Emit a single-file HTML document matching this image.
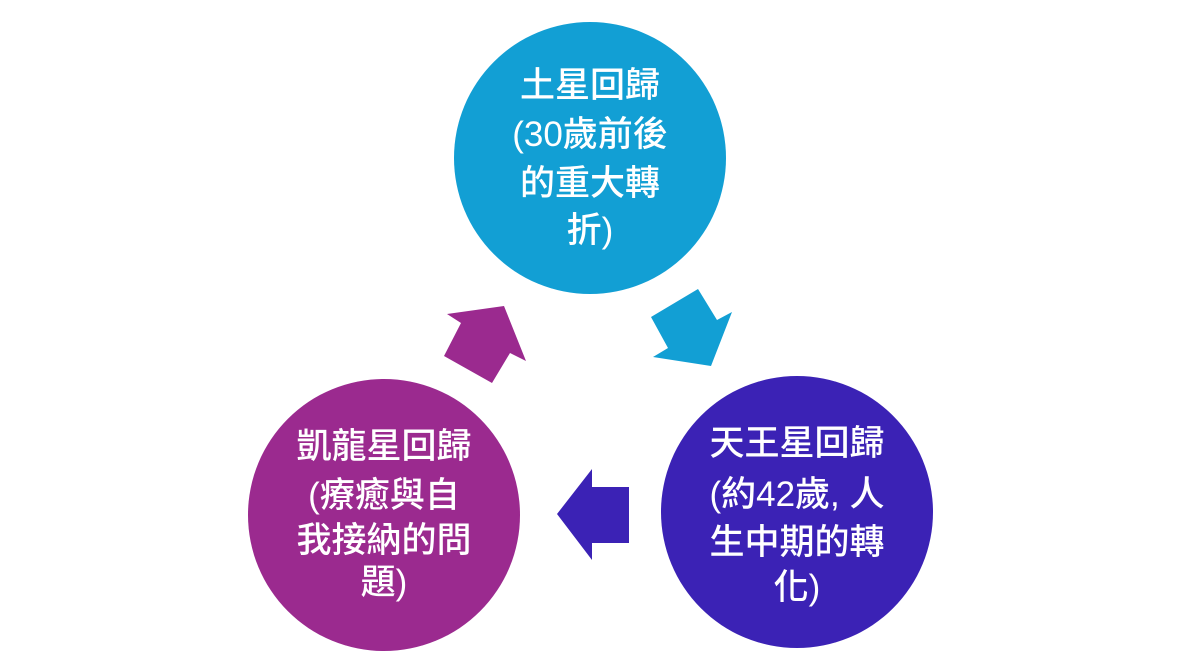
<!DOCTYPE html>
<html><head><meta charset="utf-8"><style>
html,body{margin:0;padding:0;background:#fff;width:1180px;height:657px;overflow:hidden}
text{font-family:"Liberation Sans","Noto Sans CJK TC",sans-serif;font-size:35px;fill:#fff;text-anchor:middle;font-weight:500}
</style></head><body>
<svg width="1180" height="657" viewBox="0 0 1180 657" xmlns="http://www.w3.org/2000/svg">
<circle cx="590" cy="158" r="136" fill="#129fd4"/>
<circle cx="797" cy="512" r="136" fill="#3b22b5"/>
<circle cx="384" cy="515" r="136" fill="#9b2a8f"/>
<polygon points="651,317 698,289 717,320 732,312 711,366 653,357 668,348" fill="#129fd4"/>
<polygon points="447,314 504,306 526,361 510,353 492,383 444,356 461,323" fill="#9b2a8f"/>
<polygon points="557,514 592,469 592,487 629,487 629,543 592,543 592,560" fill="#3b22b5"/>
<text x="590" y="97">土星回歸</text>
<text x="590" y="146">(30歲前後</text>
<text x="590" y="195">的重大轉</text>
<text x="590" y="242">折)</text>
<text x="797" y="455">天王星回歸</text>
<text x="797" y="506">(約42歲, 人</text>
<text x="797" y="554">生中期的轉</text>
<text x="797" y="599">化)</text>
<text x="384" y="458">凱龍星回歸</text>
<text x="384" y="507">(療癒與自</text>
<text x="384" y="552">我接納的問</text>
<text x="384" y="594">題)</text>
</svg>
</body></html>
